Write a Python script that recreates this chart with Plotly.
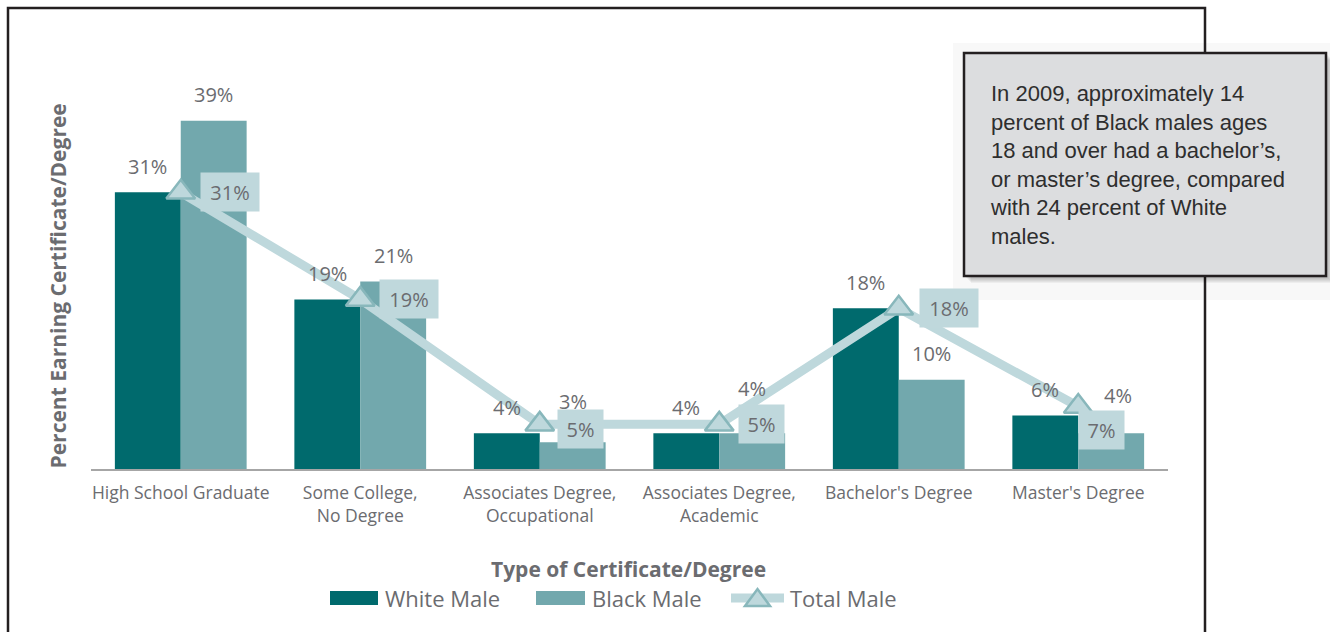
import plotly.graph_objects as go

# ---- data -------------------------------------------------------------
categories = [
    "High School Graduate",
    "Some College,<br>No Degree",
    "Associates Degree,<br>Occupational",
    "Associates Degree,<br>Academic",
    "Bachelor's Degree",
    "Master's Degree",
]
white_male = [31, 19, 4, 4, 18, 6]
black_male = [39, 21, 3, 4, 10, 4]
total_male = [31, 19, 5, 5, 18, 7]
series_names = ["White Male", "Black Male", "Total Male"]

x_title = "Type of Certificate/Degree"
y_title = "Percent Earning Certificate/Degree"
note_lines = [
    "In 2009, approximately 14",
    "percent of Black males ages",
    "18 and over had a bachelor\u2019s,",
    "or master\u2019s degree, compared",
    "with 24 percent of White",
    "males.",
]

# ---- styling ----------------------------------------------------------
W, H = 1330, 632
ML, MR, MT, MB = 91, 162, 103, 163
PW, PH = W - ML - MR, H - MT - MB

WHITE_C = "#006a6d"
BLACK_C = "#72a8ad"
TOTAL_C = "#bed8dc"
EDGE_C = "#88b7bb"
TEXT_C = "#6b6c70"
FRAME_C = "#231f20"
FONT = "Open Sans"

BAR_HALF = 32.9          # pixel offset from category centre to each bar centre
LABEL_GAP = 26           # label centre above the bar top
black_lift = [0, 0, 15, 19, 0, 12]
black_nudge = [0, 0, 0, 0, 0, 7]
total_dx = [19, 19, 17, 19, 20, 0]
total_dy = [0, 0, -5, 0, 0, -23]


def px(x):
    return (x - ML) / PW


def py(y):
    return (MT + PH - y) / PH


fig = go.Figure()
fig.add_trace(go.Bar(x=categories, y=white_male, name=series_names[0],
                     marker=dict(color=WHITE_C, line=dict(width=0))))
fig.add_trace(go.Bar(x=categories, y=black_male, name=series_names[1],
                     marker=dict(color=BLACK_C, line=dict(width=0))))
fig.add_trace(go.Scatter(
    x=categories, y=total_male, name=series_names[2], mode="lines+markers",
    line=dict(color=TOTAL_C, width=9),
    marker=dict(symbol="triangle-up", size=25, color=TOTAL_C,
                line=dict(color=EDGE_C, width=2.5)),
))

annotations = []
for i, c in enumerate(categories):
    annotations.append(dict(
        x=c, y=white_male[i], xref="x", yref="y", text=f"{white_male[i]}%",
        showarrow=False, xshift=-BAR_HALF, yshift=LABEL_GAP,
        xanchor="center", yanchor="middle",
        font=dict(family=FONT, size=20, color=TEXT_C)))
    annotations.append(dict(
        x=c, y=black_male[i], xref="x", yref="y", text=f"{black_male[i]}%",
        showarrow=False, xshift=BAR_HALF + black_nudge[i],
        yshift=LABEL_GAP + black_lift[i],
        xanchor="center", yanchor="middle",
        font=dict(family=FONT, size=20, color=TEXT_C)))
    t = f"{total_male[i]}%"
    annotations.append(dict(
        x=c, y=total_male[i], xref="x", yref="y", text=t,
        showarrow=False, xshift=total_dx[i], yshift=total_dy[i],
        xanchor="left", yanchor="middle", bgcolor="#bfd8dc",
        borderpad=6, width=13 * len(t) + 7, height=26,
        font=dict(family=FONT, size=20, color=TEXT_C)))

# axis titles
annotations.append(dict(
    x=px(57.5), y=py(286), xref="paper", yref="paper", text=f"<b>{y_title}</b>",
    textangle=-90, showarrow=False, xanchor="center", yanchor="middle",
    font=dict(family=FONT, size=21, color=TEXT_C)))
annotations.append(dict(
    x=px(628), y=py(569), xref="paper", yref="paper", text=f"<b>{x_title}</b>",
    showarrow=False, xanchor="center", yanchor="middle",
    font=dict(family=FONT, size=21, color=TEXT_C)))

# legend entries
for name, lx in zip(series_names, [383, 590, 788]):
    annotations.append(dict(
        x=px(lx), y=py(598), xref="paper", yref="paper", text=name,
        showarrow=False, xanchor="left", yanchor="middle",
        font=dict(family=FONT, size=22, color=TEXT_C)))

# call-out text
annotations.append(dict(
    x=px(988), y=py(79), xref="paper", yref="paper", text="<br>".join(note_lines),
    showarrow=False, xanchor="left", yanchor="top", align="left",
    font=dict(family="Liberation Sans", size=22, color="#2e2e2e")))


def rect(x0, y0, x1, y1, **kw):
    return dict(type="rect", xref="paper", yref="paper",
                x0=px(x0), x1=px(x1), y0=py(y0), y1=py(y1), **kw)


shapes = [
    rect(953, 43, 1340, 300, fillcolor="#f8f8f8", line=dict(width=0), layer="below"),
    rect(8, 8, 1205, 650, line=dict(color=FRAME_C, width=2.5), layer="below"),
]
for k in range(1, 8):
    shapes.append(rect(964 + k, 53 + k, 1326 + k, 276 + k,
                       fillcolor="rgba(0,0,0,0.045)", line=dict(width=0)))
shapes.append(rect(964, 53, 1326, 276, fillcolor="#dcdddf",
                   line=dict(color=FRAME_C, width=2.5)))

# legend swatches
shapes.append(rect(330, 591, 378, 605, fillcolor=WHITE_C, line=dict(width=0)))
shapes.append(rect(536, 591, 585, 605, fillcolor=BLACK_C, line=dict(width=0)))
shapes.append(dict(type="line", xref="paper", yref="paper",
                   x0=px(731), x1=px(784), y0=py(598), y1=py(598),
                   line=dict(color=TOTAL_C, width=9)))
tri = f"M {px(745)} {py(606)} L {px(770)} {py(606)} L {px(757.5)} {py(589)} Z"
shapes.append(dict(type="path", xref="paper", yref="paper", path=tri,
                   fillcolor=TOTAL_C, line=dict(color=EDGE_C, width=2.5)))

fig.update_layout(
    width=W, height=H,
    margin=dict(l=ML, r=MR, t=MT, b=MB, pad=0),
    paper_bgcolor="white", plot_bgcolor="white",
    barmode="group", bargap=0.266, bargroupgap=0,
    showlegend=False,
    annotations=annotations, shapes=shapes,
    xaxis=dict(showline=True, linecolor="#a6a6a6", linewidth=2,
               showgrid=False, zeroline=False, ticks="", ticklabelstandoff=7,
               tickfont=dict(family=FONT, size=17.5, color=TEXT_C)),
    yaxis=dict(range=[0, 41], showgrid=False, zeroline=False, showline=False,
               showticklabels=False, ticks=""),
)

fig.write_html("out.html")
